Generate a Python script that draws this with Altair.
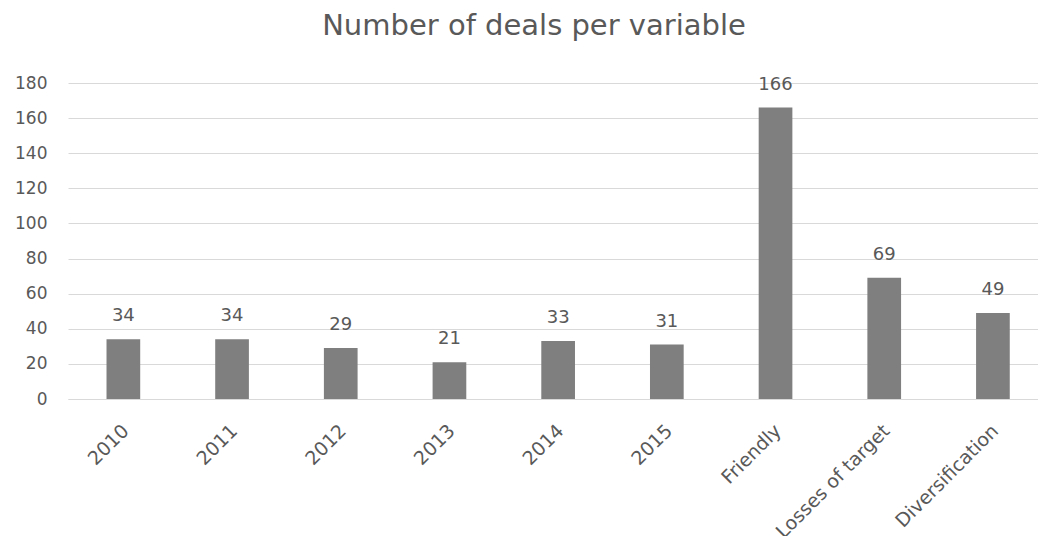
import altair as alt
import pandas as pd

categories = ["2010", "2011", "2012", "2013", "2014", "2015", "Friendly", "Losses of target", "Diversification"]
values = [34, 34, 29, 21, 33, 31, 166, 69, 49]
y_ticks = [0, 20, 40, 60, 80, 100, 120, 140, 160, 180]

df = pd.DataFrame({"cat": categories, "val": values})

FONT = "DejaVu Sans"
TXT = "#595959"

x = alt.X("cat:N", sort=categories, title=None,
          scale=alt.Scale(paddingInner=0.69, paddingOuter=0.307, align=0.577),
          axis=alt.Axis(labelAngle=-45, labelAlign="right", labelBaseline="top",
                        labelFontSize=19, labelColor=TXT, labelFont=FONT,
                        ticks=False, domainColor="#d9d9d9", domainWidth=1.2,
                        labelPadding=22, labelOffset=-4, labelOverlap=False, labelBound=False,
                        grid=False))
y = alt.Y("val:Q", title=None,
          scale=alt.Scale(domain=[0, 180], nice=False),
          axis=alt.Axis(values=y_ticks, labelFontSize=17, labelColor=TXT, labelFont=FONT,
                        ticks=False, domain=False, gridColor="#d9d9d9", gridWidth=1.2,
                        labelPadding=21, labelOverlap=False, labelBound=False))

base = alt.Chart(df).encode(x=x, y=y)
bars = base.mark_bar(color="#7f7f7f")
labels = base.mark_text(dy=-18, baseline="alphabetic", fontSize=18, color=TXT, font=FONT).encode(
    text="val:Q")

chart = (bars + labels).properties(
    width=970, height=316,
    title=alt.TitleParams("Number of deals per variable", fontSize=29, font=FONT,
                          color=TXT, fontWeight="normal", anchor="middle",
                          baseline="alphabetic", offset=10, dx=-19),
    autosize=alt.AutoSizeParams(type="none"),
    padding={"left": 68, "top": 83, "right": 0, "bottom": 137},
).configure(background="white").configure_view(stroke=None)

chart.save("out.html", embed_options={"renderer": "svg", "actions": False})
